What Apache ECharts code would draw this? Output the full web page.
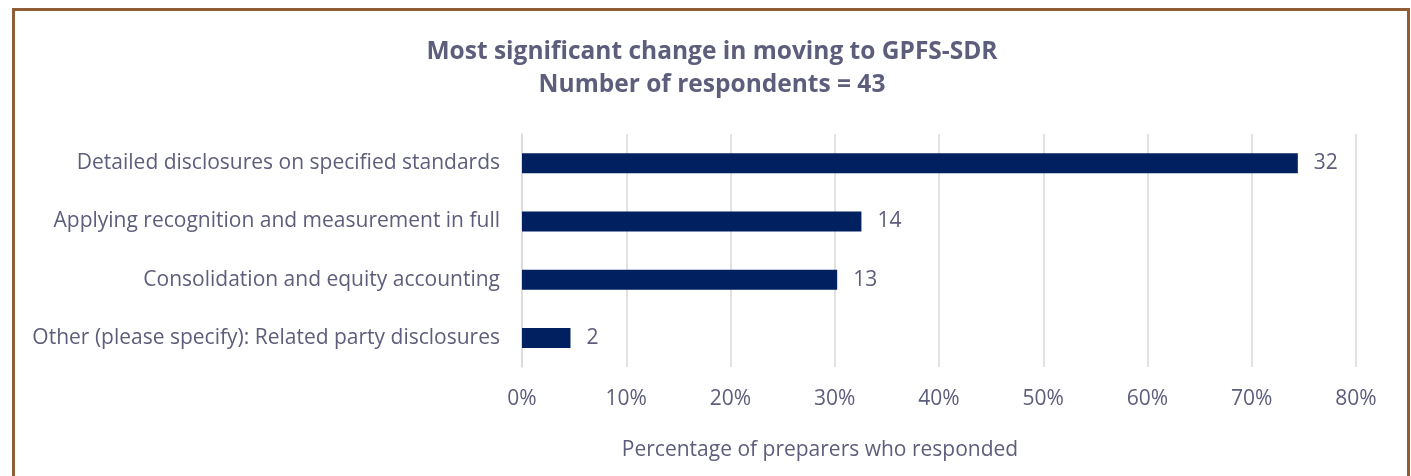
<!DOCTYPE html>
<html>
<head>
<meta charset="utf-8">
<script src="https://cdn.jsdelivr.net/npm/echarts@6/dist/echarts.min.js"></script>
<style>
  html, body { margin: 0; padding: 0; background: #ffffff; }
  #chart { position: absolute; left: 0; top: 0; width: 1411px; height: 476px; }
  #frame { position: absolute; left: 12px; top: 8px; width: 1392px; height: 520px;
           border: 3px solid #8F5E34; pointer-events: none; }
</style>
</head>
<body>
<div id="chart"></div>
<div id="frame"></div>
<script>
// Survey answers: respondents per option and the total who answered
const categories = [
  'Detailed disclosures on specified standards',
  'Applying recognition and measurement in full',
  'Consolidation and equity accounting',
  'Other (please specify): Related party disclosures'
];
const counts = [32, 14, 13, 2];
const totalRespondents = 43;
const tickLabels = ['0%', '10%', '20%', '30%', '40%', '50%', '60%', '70%', '80%'];

const shares = counts.map(c => c / totalRespondents);

const textColor = '#5D5D7C';
const chart = echarts.init(document.getElementById('chart'));
chart.setOption({
  animation: false,
  title: {
    text: 'Most significant change in moving to GPFS-SDR\nNumber of respondents = 43',
    left: 707, top: 31, textAlign: 'center',
    textStyle: { fontFamily: 'Open Sans', fontWeight: 'bold', fontSize: 24.5, lineHeight: 33, color: '#5D5D7C' }
  },
  grid: { left: 522, right: 55, top: 134, bottom: 109 },
  xAxis: {
    type: 'value', min: 0, max: 0.8, interval: 0.1,
    axisLine: { show: false }, axisTick: { show: false },
    splitLine: { lineStyle: { color: '#D9D9D9', width: 1.5 } },
    axisLabel: {
      margin: 22, fontFamily: 'Open Sans', fontSize: 21, color: textColor,
      formatter: v => tickLabels[Math.round(v * 10)]
    },
    name: 'Percentage of preparers who responded',
    nameLocation: 'middle', nameGap: 73,
    nameTextStyle: { fontFamily: 'Open Sans', fontSize: 21, color: textColor, padding: [0, 238, 0, 0] }
  },
  yAxis: {
    type: 'category', inverse: true, data: categories,
    axisLine: { show: true, lineStyle: { color: '#D9D9D9', width: 1.5 } },
    axisTick: { show: false },
    axisLabel: { margin: 22, fontFamily: 'Open Sans', fontSize: 21, color: textColor }
  },
  series: [{
    type: 'bar', barWidth: 20,
    data: shares,
    itemStyle: { color: '#002060' },
    label: {
      show: true, position: 'right', distance: 16,
      fontFamily: 'Open Sans', fontSize: 21, color: textColor,
      formatter: p => String(counts[p.dataIndex])
    }
  }]
});
</script>
</body>
</html>
